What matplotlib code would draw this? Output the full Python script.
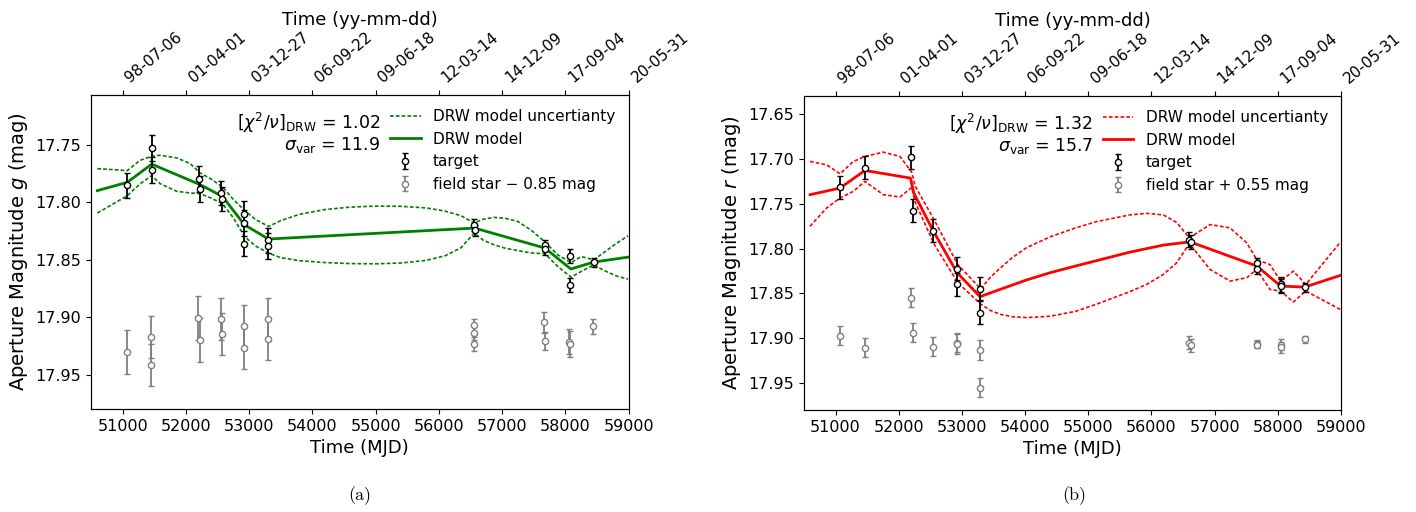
import matplotlib
matplotlib.use("Agg")
import matplotlib.pyplot as plt

# ---------------- g band (left panel) ----------------
g_mjd = [51073, 51460, 51460, 52200, 52225, 52557, 52578, 52925, 52925, 52925,
         53305, 53305, 56560, 56570, 57672, 57678, 58075, 58075, 58447]
g_mag = [17.7854, 17.7529, 17.7720, 17.7798, 17.7885, 17.7923, 17.7970, 17.8100,
         17.8180, 17.8360, 17.8330, 17.8380, 17.8196, 17.8245, 17.8376, 17.8407,
         17.8465, 17.8717, 17.8523]
g_err = [0.011, 0.011, 0.0115, 0.011, 0.011, 0.0105, 0.0105, 0.011, 0.011, 0.011,
         0.011, 0.011, 0.005, 0.005, 0.005, 0.005, 0.006, 0.006, 0.004]

g_star_mjd = [51067, 51456, 51456, 52195, 52228, 52556, 52572, 52922, 52922, 53295,
              53300, 56556, 56556, 56556, 57667, 57670, 58056, 58070, 58434]
g_star_mag = [17.9300, 17.9169, 17.9413, 17.9006, 17.9197, 17.9014, 17.9146, 17.9079,
              17.9264, 17.9014, 17.9188, 17.9070, 17.9135, 17.9230, 17.9042, 17.9202,
              17.9210, 17.9230, 17.9079]
g_star_err = [0.019, 0.018, 0.0185, 0.019, 0.019, 0.018, 0.018, 0.0187, 0.0187, 0.018,
              0.0185, 0.006, 0.006, 0.006, 0.009, 0.0078, 0.011, 0.011, 0.0066]

g_model_mjd = [50600, 51073, 51460, 52225, 52578, 52925, 53305, 56565, 57675, 58085,
               58447, 58990]
g_model_mag = [17.7900, 17.7828, 17.7670, 17.7848, 17.7950, 17.8196, 17.8320, 17.8225,
               17.8398, 17.8580, 17.8520, 17.8477]

g_unc_mjd = [50600, 50830, 51073, 51274, 51460, 51591, 51856, 52067, 52225, 52400,
             52578, 52753, 52927, 53100, 53307, 53500, 53800, 54200, 54600, 55000,
             55400, 55800, 56100, 56350, 56556, 56700, 56873, 57050, 57244, 57450,
             57677, 57878, 58089, 58247, 58449, 58600, 58800, 58990]
g_unc_upper = [17.7709, 17.7717, 17.7726, 17.7637, 17.7602, 17.7593, 17.7616, 17.7665,
               17.7746, 17.7800, 17.7868, 17.7978, 17.8071, 17.8150, 17.8211, 17.8160,
               17.8105, 17.8064, 17.8043, 17.8034, 17.8036, 17.8050, 17.8078, 17.8118,
               17.8181, 17.8148, 17.8132, 17.8140, 17.8167, 17.8240, 17.8346, 17.8457,
               17.8524, 17.8472, 17.8500, 17.8440, 17.8360, 17.8292]
g_unc_lower = [17.8094, 17.8022, 17.7944, 17.7842, 17.7770, 17.7839, 17.7906, 17.7920,
               17.7926, 17.7965, 17.8013, 17.8138, 17.8298, 17.8380, 17.8442, 17.8482,
               17.8508, 17.8524, 17.8533, 17.8535, 17.8528, 17.8505, 17.8465, 17.8395,
               17.8268, 17.8330, 17.8370, 17.8400, 17.8420, 17.8440, 17.8448, 17.8558,
               17.8651, 17.8602, 17.8544, 17.8590, 17.8640, 17.8668]

# ---------------- r band (right panel) ----------------
r_mjd = [51070, 51465, 52196, 52221, 52548, 52923, 52923, 53287, 53287, 56598,
         56630, 57664, 57674, 58043, 58048, 58424]
r_mag = [17.7319, 17.7100, 17.6981, 17.7578, 17.7800, 17.8226, 17.8400, 17.8448,
         17.8715, 17.7900, 17.7930, 17.8167, 17.8226, 17.8400, 17.8419, 17.8433]
r_err = [0.013, 0.0126, 0.0128, 0.0126, 0.013, 0.013, 0.013, 0.0125, 0.013, 0.008,
         0.008, 0.006, 0.006, 0.008, 0.008, 0.0047]

r_star_mjd = r_mjd
r_star_mag = [17.8974, 17.9104, 17.8548, 17.8937, 17.9093, 17.9048, 17.9065, 17.9130,
              17.9550, 17.9050, 17.9080, 17.9060, 17.9070, 17.9070, 17.9100, 17.9010]
r_star_err = [0.0107, 0.011, 0.0107, 0.011, 0.011, 0.011, 0.011, 0.011, 0.011, 0.007,
              0.007, 0.004, 0.004, 0.006, 0.006, 0.004]

r_model_mjd = [50595, 51070, 51465, 52185, 52237, 52548, 52923, 53287, 53602, 54025,
               54394, 54800, 55133, 55660, 56187, 56610, 57670, 58045, 58424, 58990]
r_model_mag = [17.7400, 17.7326, 17.7130, 17.7215, 17.7380, 17.7807, 17.8270, 17.8537,
               17.8456, 17.8350, 17.8270, 17.8195, 17.8135, 17.8040, 17.7962, 17.7926,
               17.8196, 17.8419, 17.8430, 17.8300]

r_unc_mjd = [50595, 50859, 51070, 51281, 51465, 51755, 52019, 52205, 52257, 52558,
             52933, 53297, 53450, 53602, 53800, 54025, 54394, 54800, 55133, 55660,
             55924, 56187, 56399, 56599, 56927, 57243, 57508, 57666, 57876, 58046,
             58245, 58442, 58990]
r_unc_upper = [17.7030, 17.7067, 17.7167, 17.7030, 17.6974, 17.6926, 17.6974, 17.7150,
               17.7300, 17.7678, 17.8178, 17.8450, 17.8320, 17.8220, 17.8100, 17.7990,
               17.7870, 17.7770, 17.7700, 17.7625, 17.7608, 17.7625, 17.7710, 17.7881,
               17.7733, 17.7770, 17.7937, 17.8122, 17.8180, 17.8363, 17.8252, 17.8400,
               17.7930]
r_unc_lower = [17.7752, 17.7548, 17.7437, 17.7363, 17.7252, 17.7400, 17.7426, 17.7320,
               17.7480, 17.7950, 17.8380, 17.8620, 17.8690, 17.8733, 17.8760, 17.8770,
               17.8755, 17.8700, 17.8620, 17.8480, 17.8400, 17.8290, 17.8160, 17.7944,
               17.8233, 17.8363, 17.8326, 17.8233, 17.8456, 17.8474, 17.8596, 17.8474,
               17.8680]

# top axis: the same MJD ticks written as calendar dates
top_ticks = [51000, 52000, 53000, 54000, 55000, 56000, 57000, 58000, 59000]
top_labels = ['98-07-06', '01-04-01', '03-12-27', '06-09-22', '09-06-18',
              '12-03-14', '14-12-09', '17-09-04', '20-05-31']
bottom_ticks = [51000, 52000, 53000, 54000, 55000, 56000, 57000, 58000, 59000]

DASH = (0, (2.2, 1.3))


def draw_panel(ax, color, band, t, star, model, unc, chi2, sig, star_label, ylim):
    # DRW uncertainty band and model
    ax.plot(unc[0], unc[1], color=color, lw=1.2, ls=DASH,
            label='DRW model uncertianty', zorder=2)
    ax.plot(unc[0], unc[2], color=color, lw=1.2, ls=DASH, zorder=2)
    ax.plot(model[0], model[1], color=color, lw=2.0, label='DRW model', zorder=2)

    # target and field star photometry
    ax.errorbar(t[0], t[1], yerr=t[2], fmt='o', ms=4.5, mfc='white', mec='black',
                mew=1.0, ecolor='black', elinewidth=1.3, capsize=2.5, capthick=1.3,
                label='target', zorder=3)
    ax.errorbar(star[0], star[1], yerr=star[2], fmt='o', ms=4.5, mfc='white',
                mec='gray', mew=1.0, ecolor='gray', elinewidth=1.3, capsize=2.5,
                capthick=1.3, label=star_label, zorder=3)

    ax.set_xlim(50500, 59000)
    ax.set_ylim(*ylim)
    ax.set_xticks(bottom_ticks)
    ax.tick_params(labelsize=11.5)
    ax.set_xlabel('Time (MJD)', fontsize=13)
    ax.set_ylabel('Aperture Magnitude $%s$ (mag)' % band, fontsize=14)

    ax.text(0.5375, 0.91, r'$[\chi^2/\nu]_{\mathrm{DRW}}$ = %s' % chi2,
            transform=ax.transAxes, ha='right', va='center', fontsize=12.5)
    ax.text(0.5375, 0.841, r'$\sigma_{\mathrm{var}}$ = %s' % sig,
            transform=ax.transAxes, ha='right', va='center', fontsize=12.5)

    ax.legend(loc='upper left', bbox_to_anchor=(0.545, 0.975), borderaxespad=0,
              frameon=False, fontsize=11, labelspacing=0.5)

    # second x axis on top with the calendar dates
    top = ax.twiny()
    top.set_xlim(ax.get_xlim())
    top.set_xticks(top_ticks)
    top.set_xticklabels(top_labels, rotation=40, ha='left')
    top.tick_params(labelsize=11)
    top.set_xlabel('Time (yy-mm-dd)', fontsize=13, labelpad=3)


fig = plt.figure(figsize=(14.16, 5.12), dpi=100)
ax_g = fig.add_axes([91 / 1416, 1 - 409 / 512, 537.7 / 1416, 314 / 512])
ax_r = fig.add_axes([804 / 1416, 1 - 410 / 512, 537 / 1416, 314 / 512])

draw_panel(ax_g, 'green', 'g', (g_mjd, g_mag, g_err),
           (g_star_mjd, g_star_mag, g_star_err), (g_model_mjd, g_model_mag),
           (g_unc_mjd, g_unc_upper, g_unc_lower), '1.02', '11.9',
           'field star \u2212 0.85 mag', (17.9795, 17.707))
draw_panel(ax_r, 'red', 'r', (r_mjd, r_mag, r_err),
           (r_star_mjd, r_star_mag, r_star_err), (r_model_mjd, r_model_mag),
           (r_unc_mjd, r_unc_upper, r_unc_lower), '1.32', '15.7',
           'field star + 0.55 mag', (17.98, 17.63))

# sub-figure captions
fig.text(0.254, 0.031, '(a)', ha='center', va='center', fontsize=13, family='cmr10')
fig.text(0.7585, 0.031, '(b)', ha='center', va='center', fontsize=13, family='cmr10')

fig.savefig('out.png', dpi=100)
